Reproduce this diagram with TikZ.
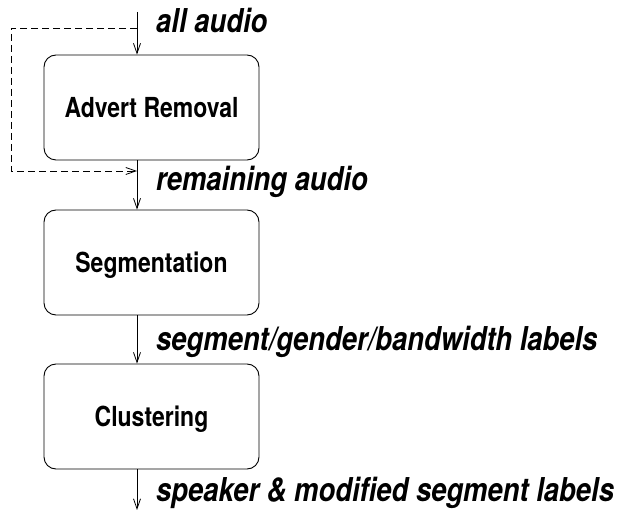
\documentclass[tikz,border=0pt]{standalone}
\usepackage{graphicx}
\usepackage{fontspec}
\setmainfont{TeX Gyre Heros}
\usetikzlibrary{arrows.meta}
% lettering is set slightly taller than its natural shape
\newcommand\tall[1]{\scalebox{1}[1.2]{#1}}
\begin{document}
\begin{tikzpicture}[x=1pt,y=1pt,
  stage/.style={draw, line width=0.9pt, rounded corners=12pt,
    minimum width=215pt, minimum height=105pt, inner sep=0pt,
    text height=19.8pt, text depth=0pt,
    font=\fontsize{23}{26}\selectfont\bfseries},
  flow/.style={line width=0.8pt, -{Straight Barb[length=10pt,width=7pt]}},
  loop/.style={flow, dash pattern=on 7pt off 4pt},
  datalabel/.style={anchor=base west, inner sep=0pt,
    font=\fontsize{27.4}{30}\selectfont\bfseries\itshape}]
\useasboundingbox (0,0) rectangle (618,-510);

% processing stages
\node[stage] (advert) at (151.5,-107.5) {\tall{Advert Removal}};
\node[stage] (segm)   at (151.5,-262.5) {\tall{Segmentation}};
\node[stage] (clust)  at (151.5,-416.5) {\tall{Clustering}};

% flow endpoints on the main axis
\coordinate (src)  at (137,-12);
\coordinate (tap)  at (137,-28);
\coordinate (sink) at (137,-510);
\coordinate (byl)  at (11,-28);
\coordinate (byb)  at (11,-171);
\coordinate (join) at (137,-171);

% main flow
\draw[flow] (src) -- (src |- advert.north);
\draw[flow] (src |- advert.south) -- (src |- segm.north);
\draw[flow] (src |- segm.south) -- (src |- clust.north);
\draw[flow] (src |- clust.south) -- (sink);

% bypass around advert removal
\draw[loop] (tap) -- (byl) -- (byb) -- (join);

% data labels
\node[datalabel] (l1) at (156,-32.5) {\tall{all audio}};
\node[datalabel] (l2) at (156,-190.7) {\tall{remaining audio}};
\node[datalabel] (l3) at (156,-350) {\tall{segment/gender/bandwidth labels}};
\node[datalabel] (l4) at (156,-501.7) {\tall{speaker \& modified segment labels}};
\end{tikzpicture}
\end{document}
